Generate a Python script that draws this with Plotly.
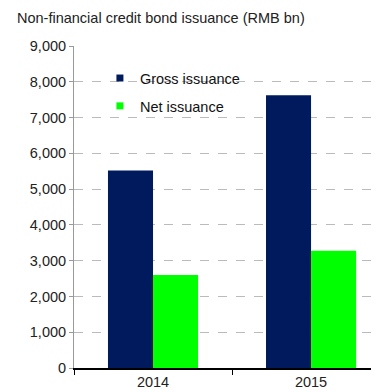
import plotly.graph_objects as go

years = ["2014", "2015"]
gross = [5520, 7620]
net = [2600, 3280]
y_ticks = [0, 1000, 2000, 3000, 4000, 5000, 6000, 7000, 8000, 9000]
y_labels = ["0", "1,000", "2,000", "3,000", "4,000", "5,000", "6,000", "7,000", "8,000", "9,000"]
series_names = ["Gross issuance", "Net issuance"]
series_colors = ["#001A5E", "#00FF00"]

fig = go.Figure()
for name, vals, col in zip(series_names, [gross, net], series_colors):
    fig.add_trace(go.Bar(x=years, y=vals, name=name, marker_color=col, marker_line_width=0,
                         showlegend=False))
# legend entries with small square markers
for name, col in zip(series_names, series_colors):
    fig.add_trace(go.Scatter(x=[None], y=[None], mode="markers", name=name, legendgroup=name,
                             marker=dict(symbol="square", size=7, color=col)))

FF = "Liberation Sans, Arial"
font = dict(family=FF, size=14.5, color="#222222")
fig.update_layout(
    width=371, height=384,
    margin=dict(l=66, r=0, t=38, b=24),
    paper_bgcolor="white", plot_bgcolor="white",
    barmode="group", bargap=0.43, bargroupgap=0,
    font=font,
    showlegend=True,
    legend=dict(x=0.085, y=0.95, xanchor="left", yanchor="top", bgcolor="rgba(0,0,0,0)",
                font=dict(family=FF, size=14.5, color="#111111"),
                itemwidth=30, traceorder="grouped", tracegroupgap=6),
    xaxis=dict(type="category", range=[-0.5, 1.43], showline=True, linecolor="#000000", linewidth=1.5,
               ticks="outside", tickson="boundaries", ticklen=5, tickcolor="#000000",
               showgrid=False, tickfont=font),
    yaxis=dict(range=[0, 9000], tickvals=y_ticks, ticktext=y_labels, showline=True,
               linecolor="#999999", linewidth=1, ticks="outside", ticklen=4, tickcolor="#999999",
               showgrid=True, gridcolor="#BBBBBB", griddash="dash", gridwidth=1,
               zeroline=False, tickfont=font),
    annotations=[dict(text="Non-financial credit bond issuance (RMB bn)", xref="paper", yref="paper",
                      x=-66/305, y=1, yshift=28, xshift=7, xanchor="left", yanchor="middle",
                      showarrow=False, font=dict(family=FF, size=14.5, color="#222222"))],
)
fig.write_html("out.html")
